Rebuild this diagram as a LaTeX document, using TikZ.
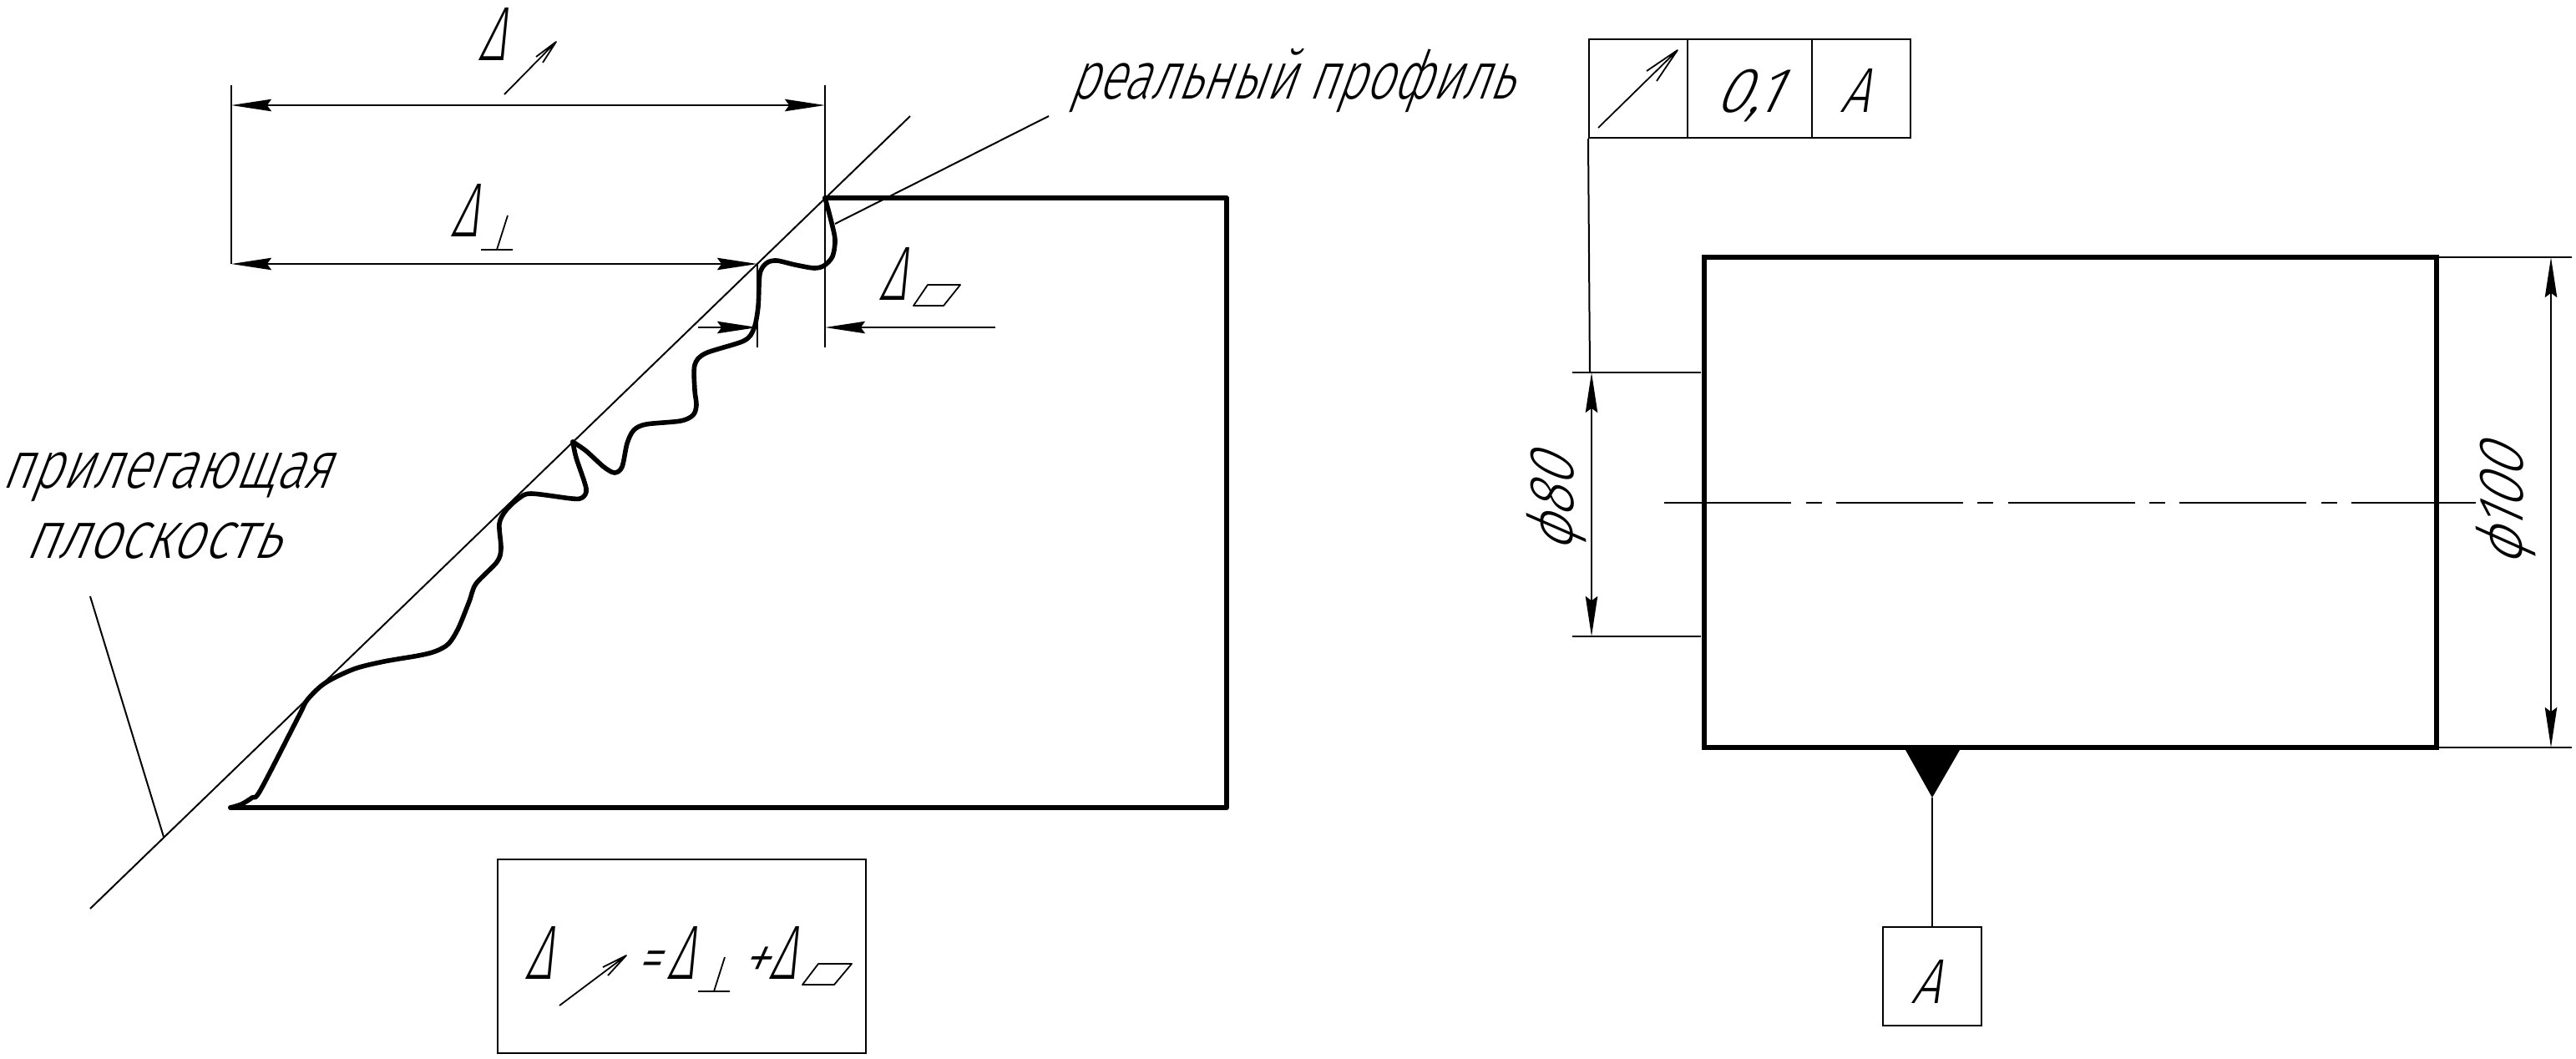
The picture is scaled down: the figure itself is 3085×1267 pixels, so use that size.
\documentclass[tikz,border=0pt]{standalone}
\usepackage{fontspec}
\usepackage{graphicx}
\setmainfont[FakeSlant=0.3,FakeStretch=0.6]{Fira Sans Light}
\usetikzlibrary{arrows.meta}
\newcommand\smallch{\fontsize{19pt}{19pt}\selectfont}
\tikzset{
  thinl/.style={line width=0.5pt,line cap=butt},
  thickl/.style={line width=1.45pt,line join=round,line cap=round},
  profl/.style={line width=1.4pt,line join=round,line cap=round},
  dim/.style={line width=0.6pt,{Stealth[length=12pt,width=3.6pt,inset=1.3pt]}-{Stealth[length=12pt,width=3.6pt,inset=1.3pt]}},
  dimr/.style={line width=0.6pt,-{Stealth[length=12pt,width=3.6pt,inset=1.3pt]}},
  lbl/.style={inner sep=0pt,outer sep=0pt,font=\fontsize{20pt}{20pt}\selectfont,anchor=base west},
  chars/.style={inner sep=0pt,outer sep=0pt,font=\fontsize{19pt}{19pt}\selectfont,anchor=base west},
  delta/.style={inner sep=0pt,outer sep=0pt,font=\fontsize{23pt}{23pt}\selectfont,anchor=base west},
  sym/.style={line width=0.45pt,line join=round},
  box/.style={line width=0.5pt,draw}
}
\begin{document}
\begin{tikzpicture}[x=0.25pt,y=-0.25pt]
\useasboundingbox (0,0) rectangle (3085,1267);
% --- left part coordinates
\coordinate (eL) at (277,102);
\coordinate (eLb) at (277,316);
\coordinate (eR) at (988,102);
\coordinate (eRb) at (988,416);
\coordinate (eM) at (907,316);
\coordinate (eMb) at (907,416);
\coordinate (d1a) at (277,126);
\coordinate (d1b) at (988,126);
\coordinate (d2a) at (277,316);
\coordinate (d2b) at (907,316);
\coordinate (d3a) at (836,392);
\coordinate (d3b) at (907,392);
\coordinate (d3c) at (1192,392);
\coordinate (d3d) at (988,392);
\draw[thinl] (eL)--(eLb);
\draw[thinl] (eR)--(eRb);
\draw[thinl] (eM)--(eMb);
\draw[dim] (d1a)--(d1b);
\draw[dim] (d2a)--(d2b);
\draw[dimr] (d3a)--(d3b);
\draw[dimr] (d3c)--(d3d);
% adjacent plane and leaders
\coordinate (pa) at (108,1088);
\coordinate (pb) at (1090,139);
\coordinate (pl) at (108,714);
\coordinate (plb) at (196,1002);
\coordinate (rl) at (1256,139);
\coordinate (rlb) at (1000,268);
\draw[thinl] (pa)--(pb);
\draw[thinl] (pl)--(plb);
\draw[thinl] (rl)--(rlb);
% part outline
\coordinate (c1) at (988,237);
\coordinate (c2) at (1469,237);
\coordinate (c3) at (1469,967);
\coordinate (c4) at (276,967);
\draw[thickl] (c4)--(c3)--(c2)--(c1);
\draw[profl] plot[smooth,tension=0.5] coordinates {(988,237) (995,263) (1000,287) (997,307) (987,318) (975,321) (952,317) (930,312) (918,315) (910,328) (908,367) (903,393) (891,408) (845,423) (832,437) (832,467) (834,485) (830,497) (815,504) (774,508) (759,515) (751,531) (745,559) (736,566) (723,559) (702,540) (686,529)};
\draw[profl] plot[smooth,tension=0.5] coordinates {(686,529) (690,548) (702,585) (697,596) (685,597) (636,591) (621,597) (606,611) (598,627) (600,657) (595,673) (570,699) (562,720) (549,752) (537,771) (521,780) (501,785) (460,792) (424,801) (389,818) (368,838) (358,857) (312,946) (302,955) (289,963) (276,967)};
% labels left
\node[delta] (dA) at (572,72) {Δ};
\node[delta] (dB) at (539,283) {Δ};
\node[delta] (dC) at (1052,359) {Δ};
\draw[sym] (604,113)--(666,50)--(642,68) (666,50)--(650,75);
\draw[sym] (608,258)--(595,299) (576,299)--(614,299);
\draw[sym] (1094,366)--(1130,366)--(1150,341)--(1111,341)--cycle;
\node[lbl] (real) at (1280,118) {\scalebox{1.22}[1]{реальный профиль}};
\node[lbl] (pril) at (2,584) {\scalebox{1.276}[1]{прилегающая}};
\node[lbl] (plos) at (29,668) {\scalebox{1.364}[1]{плоскость}};
% formula box
\node[box,minimum width=110.25pt,minimum height=58pt,inner sep=0pt] (fbox) at (816.5,1145) {};
\node[delta] (f1) at (628,1172) {Δ};
\draw[sym] (670,1204)--(750,1144)--(722,1158) (750,1144)--(728,1168);
\node[delta] (feq) at (760,1172) {\makebox[9.5pt][l]{\smallch\scalebox{1.25}[1]{=}}Δ};
\draw[sym] (868,1146)--(855,1187) (836,1187)--(874,1187);
\node[delta] (fpl) at (884,1172) {\makebox[9pt][l]{\smallch\scalebox{1.5}[1]{+}}Δ};
\draw[sym] (961,1179)--(999,1179)--(1020,1154)--(980,1154)--cycle;
% right part: tolerance frame
\node[box,minimum width=29.5pt,minimum height=29.5pt,inner sep=0pt] (t1) at (1962,106) {};
\node[box,minimum width=37.25pt,minimum height=29.5pt,inner sep=0pt] (t2) at (2095.5,106) {};
\node[box,minimum width=29.5pt,minimum height=29.5pt,inner sep=0pt] (t3) at (2229,106) {};
\draw[sym] (1914,153)--(2009,60)--(1972,85) (2009,60)--(1984,97);
\node[chars] (tv) at (2052,134) {\scalebox{1.6}[1]{0,1}};
\node[chars] (ta) at (2203,134) {\scalebox{1.3}[1]{A}};
\coordinate (lead) at (1904,446);
\draw[thinl] (t1.south west)--(lead);
% shaft
\draw[thickl,line cap=butt,line join=miter] (2041,308) rectangle (2918,895);
\draw[line width=0.5pt,dash pattern=on 38pt off 4.4pt on 4.75pt off 4.3pt] (1993,602)--(2965,602);
% dim 80
\coordinate (e80a) at (1883,446);
\coordinate (e80ab) at (2037,446);
\coordinate (e80b) at (1883,762);
\coordinate (e80bb) at (2037,762);
\draw[thinl] (e80a)--(e80ab);
\draw[thinl] (e80b)--(e80bb);
\draw[dim] (1906,446)--(1906,762);
\node[chars,rotate=90,anchor=center] (t80) at (1864,605) {\scalebox{1.45}[1]{ϕ80}};
% dim 100
\coordinate (e100a) at (2920,308);
\coordinate (e100ab) at (3080,308);
\coordinate (e100b) at (2920,895);
\coordinate (e100bb) at (3080,895);
\draw[thinl] (e100a)--(e100ab);
\draw[thinl] (e100b)--(e100bb);
\draw[dim] (3055,308)--(3055,895);
\node[chars,rotate=90,anchor=center] (t100) at (3001,608) {\scalebox{1.49}[1]{ϕ100}};
% datum
\node[box,minimum width=29.5pt,minimum height=29.5pt,inner sep=0pt] (dat) at (2314,1169) {};
\node[chars] (datA) at (2288,1201) {\scalebox{1.3}[1]{A}};
\coordinate (tip) at (2314,955);
\fill (2282,898)--(2347,898)--(tip)--cycle;
\draw[thinl] (tip)--(dat.north);
\end{tikzpicture}
\end{document}
